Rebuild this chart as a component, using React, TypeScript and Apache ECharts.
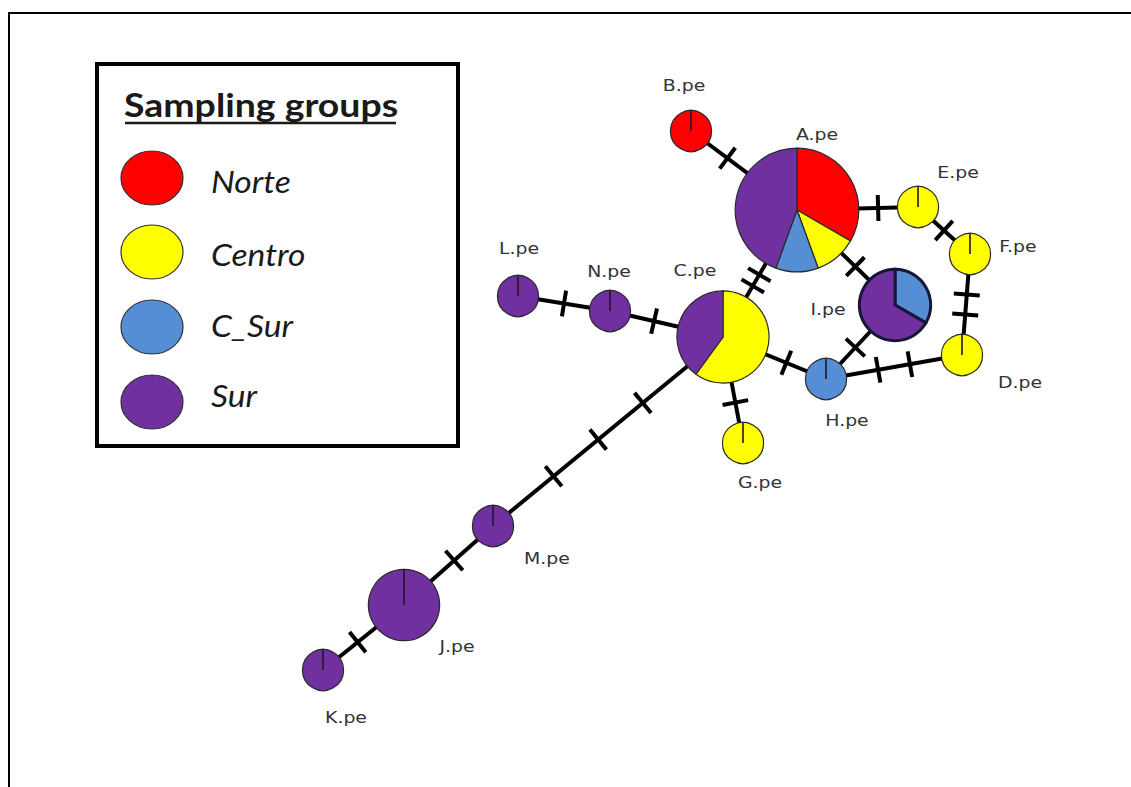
import React, { useEffect, useRef } from "react";
import * as echarts from "echarts";

// ---- Sampling groups ----
const groups = ["Norte", "Centro", "C_Sur", "Sur"];
const groupColors = ["#ff0000", "#ffff00", "#558ed5", "#7030a0"];

// ---- Haplotypes and their counts per sampling group ----
const haplotypes = ["A.pe", "B.pe", "C.pe", "D.pe", "E.pe", "F.pe", "G.pe", "H.pe", "I.pe", "J.pe", "K.pe", "L.pe", "M.pe", "N.pe"];
const countsNorte = [3, 1, 0, 0, 0, 0, 0, 0, 0, 0, 0, 0, 0, 0];
const countsCentro = [1, 0, 3, 1, 1, 1, 1, 0, 0, 0, 0, 0, 0, 0];
const countsCSur = [1, 0, 0, 0, 0, 0, 0, 1, 1, 0, 0, 0, 0, 0];
const countsSur = [4, 0, 2, 0, 0, 0, 0, 0, 2, 3, 1, 1, 1, 1];

// ---- Network layout coordinates (x, y) ----
const nodeX = [797, 691, 723, 962, 918, 970, 743, 826, 895, 404, 323, 518, 493, 610];
const nodeY = [210, 131, 337, 355, 207, 254, 443, 379, 305, 605, 670, 296, 526, 311];

// ---- Network links and number of mutational steps ----
const edgeFrom = [1, 0, 4, 5, 3, 7, 8, 0, 2, 2, 2, 13, 2, 12, 9];
const edgeTo = [0, 4, 5, 3, 7, 8, 0, 2, 7, 6, 13, 11, 12, 9, 10];
const edgeMutations = [1, 1, 1, 2, 2, 1, 1, 2, 1, 1, 1, 1, 3, 1, 1];

// label placement relative to node (layout only)
const labelOffset: Record<string, [number, number]> = {
  "A.pe": [20, -75], "B.pe": [-7, -45], "C.pe": [-28, -66], "D.pe": [58, 28],
  "E.pe": [40, -34], "F.pe": [48, -7], "G.pe": [17, 40], "H.pe": [21, 42],
  "I.pe": [-67, 5], "J.pe": [53, 42], "K.pe": [23, 48], "L.pe": [1, -47],
  "M.pe": [54, 33], "N.pe": [-1, -39],
};
const thickBorder = ["I.pe"];

const radiusOf = (total: number) => 20.6 * Math.sqrt(total);
const totalOf = (i: number) => countsNorte[i] + countsCentro[i] + countsCSur[i] + countsSur[i];

export default function App() {
  const ref = useRef<HTMLDivElement>(null);
  useEffect(() => {
    if (!ref.current) return;
    const chart = echarts.init(ref.current, null, { renderer: "svg" });

    const nodeData = haplotypes.map((_, i) => [nodeX[i], nodeY[i], countsNorte[i], countsCentro[i], countsCSur[i], countsSur[i]]);
    const edgeData = edgeFrom.map((f, k) => {
      const t = edgeTo[k];
      return [nodeX[f], nodeY[f], nodeX[t], nodeY[t], edgeMutations[k], totalOf(f), totalOf(t)];
    });

    const legendGraphics: any[] = [];
    const legendY = [178, 252, 327, 402];
    const legendTextY = [182, 255, 326, 396];
    groups.forEach((g, i) => {
      legendGraphics.push({
        type: "ellipse",
        shape: { cx: 152, cy: legendY[i], rx: 31, ry: 27 },
        style: { fill: groupColors[i], stroke: "#333", lineWidth: 1.2 },
      });
      legendGraphics.push({
        type: "text",
        x: 211,
        y: legendTextY[i],
        scaleX: 1.12,
        style: { text: g, fontFamily: "Lato", fontStyle: "italic", fontSize: 30, fill: "#1a1a1a", align: "left", verticalAlign: "middle" },
      });
    });

    chart.setOption({
      animation: false,
      backgroundColor: "#ffffff",
      grid: { left: 0, right: 0, top: 0, bottom: 0 },
      xAxis: { type: "value", min: 0, max: 1131, show: false },
      yAxis: { type: "value", min: 0, max: 787, inverse: true, show: false },
      graphic: [
        { type: "rect", shape: { x: 9, y: 13, width: 1300, height: 900 }, style: { fill: "transparent", stroke: "#000", lineWidth: 2 }, silent: true },
        { type: "rect", shape: { x: 97, y: 64, width: 361, height: 382 }, style: { fill: "#fff", stroke: "#000", lineWidth: 4 }, silent: true },
        {
          type: "text", x: 124, y: 105, scaleX: 1.17,
          style: { text: "Sampling groups", fontFamily: "Lato", fontWeight: "bold", fontSize: 32, fill: "#1a1a1a", align: "left", verticalAlign: "middle" },
        },
        { type: "line", shape: { x1: 125, y1: 123, x2: 396, y2: 123 }, style: { stroke: "#1a1a1a", lineWidth: 2.5 } },
        ...legendGraphics,
      ],
      series: [
        {
          type: "custom",
          name: "links",
          silent: true,
          clip: false,
          data: edgeData,
          renderItem: (params: any, api: any) => {
            const p1 = api.coord([api.value(0), api.value(1)]);
            const p2 = api.coord([api.value(2), api.value(3)]);
            const m = api.value(4);
            const r1 = radiusOf(api.value(5));
            const r2 = radiusOf(api.value(6));
            const dx = p2[0] - p1[0], dy = p2[1] - p1[1];
            const len = Math.sqrt(dx * dx + dy * dy);
            const ux = dx / len, uy = dy / len;
            const nx = -uy, ny = ux;
            const children: any[] = [
              { type: "line", shape: { x1: p1[0], y1: p1[1], x2: p2[0], y2: p2[1] }, style: { stroke: "#000", lineWidth: 4 } },
            ];
            for (let k = 1; k <= m; k++) {
              const d = r1 + ((len - r1 - r2) * k) / (m + 1);
              const cx = p1[0] + ux * d, cy = p1[1] + uy * d;
              children.push({
                type: "line",
                shape: { x1: cx - nx * 13, y1: cy - ny * 13, x2: cx + nx * 13, y2: cy + ny * 13 },
                style: { stroke: "#000", lineWidth: 4 },
              });
            }
            return { type: "group", children };
          },
        },
        {
          type: "custom",
          name: "haplotypes",
          silent: true,
          clip: false,
          data: nodeData,
          renderItem: (params: any, api: any) => {
            const i = params.dataIndex;
            const name = haplotypes[i];
            const c = api.coord([api.value(0), api.value(1)]);
            const counts = [api.value(2), api.value(3), api.value(4), api.value(5)] as number[];
            const total = counts.reduce((a, b) => a + b, 0);
            const r = radiusOf(total);
            const thick = thickBorder.includes(name);
            const stroke = thick ? "#161638" : "#2a2a2a";
            const lw = thick ? 3 : 1.2;
            const nonzero = counts.filter((v) => v > 0).length;
            const children: any[] = [];
            let ang = -Math.PI / 2;
            counts.forEach((v, g) => {
              if (!v) return;
              const end = ang + (v / total) * Math.PI * 2;
              if (nonzero === 1) {
                children.push({ type: "circle", shape: { cx: c[0], cy: c[1], r }, style: { fill: groupColors[g], stroke, lineWidth: lw } });
              } else {
                children.push({
                  type: "sector",
                  shape: { cx: c[0], cy: c[1], r0: 0, r, startAngle: ang, endAngle: end, clockwise: true },
                  style: { fill: groupColors[g], stroke, lineWidth: lw },
                });
              }
              ang = end;
            });
            if (nonzero === 1) {
              children.push({ type: "line", shape: { x1: c[0], y1: c[1] - r, x2: c[0], y2: c[1] }, style: { stroke: "rgba(35,20,40,0.8)", lineWidth: 2 } });
            }
            const off = labelOffset[name] || [0, -r - 20];
            children.push({
              type: "text",
              x: c[0] + off[0],
              y: c[1] + off[1],
              scaleX: 1.18,
              style: { text: name, fontFamily: "DejaVu Sans", fontSize: 16, fill: "#333", align: "center", verticalAlign: "middle" },
            });
            return { type: "group", children };
          },
        },
      ],
    });
    return () => chart.dispose();
  }, []);
  return (
    <div
      ref={ref}
      style={{ position: "fixed", left: 0, top: 0, width: 1131, height: 787, background: "#fff" }}
    />
  );
}
